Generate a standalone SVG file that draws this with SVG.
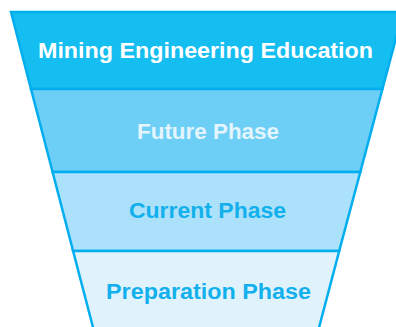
<svg xmlns="http://www.w3.org/2000/svg" width="396" height="327" viewBox="0 0 396 327">
  <style>
    .band { stroke: #00AEEF; stroke-width: 2.5; stroke-linejoin: miter; }
    .lbl { font-family: "Liberation Sans", Arial, sans-serif; font-weight: bold; font-size: 22.5px; }
  </style>
  <rect width="396" height="327" fill="#FFFFFF"/>
  <g id="connectors"/>
  <g id="node-mining">
    <polygon class="band" fill="#15BEF0" points="11,12 403,12 382.4,89 31,89"/>
    <text class="lbl" x="38" y="58" fill="#FFFFFF" textLength="335" lengthAdjust="spacingAndGlyphs">Mining Engineering Education</text>
  </g>
  <g id="node-future">
    <polygon class="band" fill="#6DCFF6" points="31,89 382.4,89 360.3,172 52.6,172"/>
    <text class="lbl" x="137" y="139" fill="#E4F5FD" textLength="142" lengthAdjust="spacingAndGlyphs">Future Phase</text>
  </g>
  <g id="node-current">
    <polygon class="band" fill="#ABE1FA" points="52.6,172 360.3,172 339.2,251 73.1,251"/>
    <text class="lbl" x="129" y="218" fill="#12B0EC" textLength="157" lengthAdjust="spacingAndGlyphs">Current Phase</text>
  </g>
  <g id="node-preparation">
    <polygon class="band" fill="#E0F3FC" points="73.1,251 339.2,251 317.6,333 94.5,333"/>
    <text class="lbl" x="106" y="299" fill="#12B0EC" textLength="205" lengthAdjust="spacingAndGlyphs">Preparation Phase</text>
  </g>
</svg>
